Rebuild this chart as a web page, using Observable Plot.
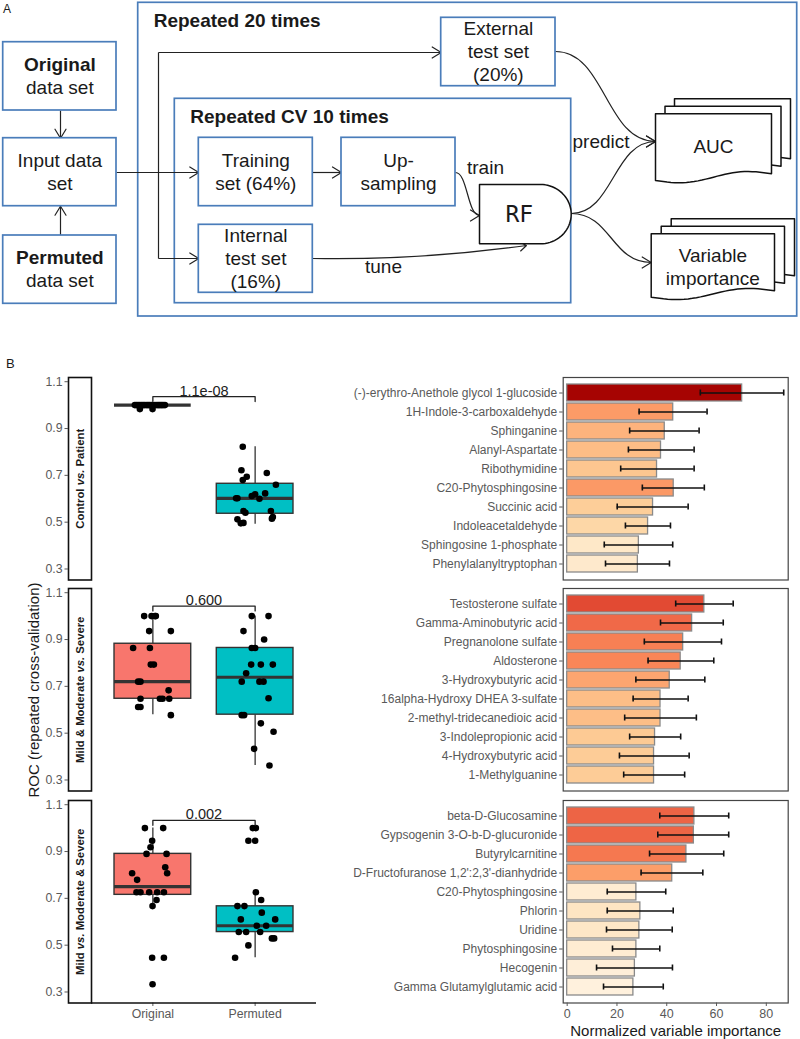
<!DOCTYPE html>
<html><head><meta charset="utf-8">
<script src="https://cdn.jsdelivr.net/npm/d3@7"></script>
<script src="https://cdn.jsdelivr.net/npm/@observablehq/plot@0.6"></script>
<style>
body{margin:0;background:#fff;}
#root{position:relative;width:800px;height:1039px;overflow:hidden;font-family:'Liberation Sans',Arial,Helvetica,sans-serif;color:#1a1a1a}
#root > *{position:absolute}
</style></head><body><div id="root"></div>
<script>
// ---------------- Panel A: flowchart data ----------------
const flowBoxLabels = [["Original","data set"],["Input data","set"],["Permuted","data set"],["Training","set (64%)"],["Up-","sampling"],["Internal","test set","(16%)"],["External","test set","(20%)"]];
const flowBoxBoldFirst = [true,false,true,false,false,false,false];
const flowBoxLeft   = [2.7, 2.7, 2.7, 198.3, 341, 198.3, 440.7];
const flowBoxTop    = [41.7, 137.7, 235, 137.3, 137.3, 224.3, 17.3];
const flowBoxRight  = [116, 116, 116, 312.3, 455, 312.3, 555];
const flowBoxBottom = [110, 205.7, 303.3, 205.7, 205.7, 292.3, 85.7];
const groupTitles = ["Repeated 20 times","Repeated CV 10 times"];
const groupLeft = [137.7, 174.3], groupTop = [2.3, 98.3], groupRight = [796.7, 570.7], groupBottom = [316, 302.7];
// connectors: [x1,y1,x2,y2]
const straightEdges = [[60,110,60,137.7],[60,235,60,205.7],[116,172,198.3,172],[158,52,440.7,52],[158,258,198.3,258],[312.3,172,341,172]];
const plainLines = [[158,52,158,258]];
const curvedEdges = [[455,172,479,215],[555,51,655,141],[570.7,213,655,141],[570.7,213,650.7,262]];
const tuneEdge = [312.3,258,526,245];
const edgeLabels = ["train","predict","tune"];
const edgeLabelX = [485, 600.5, 383], edgeLabelY = [167, 141.5, 266.5];
// RF node
const rfLabel = "RF";
const rfLeft = 479, rfTop = 184, rfBottom = 243.3, rfArcX = 540, rfRight = 570.7;
// document stacks (front document position, size, stacking offset)
const docLabels = [["AUC"],["Variable","importance"]];
const docFrontLeft = [655, 650.7], docFrontTop = [113.3, 233.3], docWidth = [116, 123.3];
const docLeftH = [66.7, 63.4], docRightH = [60, 57];
const docShiftX = [9.5, 10], docShiftY = [-7.5, -7.5];

// ---------------- Panel B: ROC boxplots ----------------
const groups = ["Original","Permuted"];
const groupColors = ["#F8766D","#00BFC4"];
const comparisons = ["Control vs. Patient","Mild & Moderate vs. Severe","Mild vs. Moderate & Severe"];
const pLabels = ["1.1e-08","0.600","0.002"];
const bracketY = [1.036, 1.043, 1.033];
const boxQ1 = [[1.0,0.536],[0.647,0.579],[0.715,0.556]];
const boxMedian = [[1.0,0.602],[0.72,0.739],[0.75,0.583]];
const boxQ3 = [[1.0,0.664],[0.882,0.864],[0.89,0.666]];
const whiskerLow = [[1.0,0.491],[0.579,0.362],[0.667,0.446]];
const whiskerHigh = [[1.0,0.822],[1.0,1.0],[1.0,0.726]];
const rocValues = [
  [[1,1,1,1,1,1,1,1,1,1,1,1,1,1,1,1,1,1,0.983,0.983],
   [0.822,0.722,0.694,0.680,0.710,0.660,0.602,0.602,0.612,0.619,0.600,0.623,0.548,0.540,0.548,0.515,0.522,0.512,0.497,0.495]],
  [[1.0,1.0,1.0,1.0,0.936,0.936,0.864,0.864,0.793,0.793,0.72,0.72,0.683,0.647,0.647,0.647,0.647,0.612,0.612,0.577],
   [1.0,1.0,0.936,0.9,0.864,0.864,0.793,0.793,0.793,0.756,0.72,0.72,0.72,0.649,0.577,0.577,0.542,0.506,0.433,0.362]],
  [[1.0,1.0,0.946,0.918,0.89,0.89,0.833,0.807,0.807,0.779,0.726,0.726,0.726,0.726,0.726,0.693,0.667,0.446,0.446,0.333],
   [1.0,1.0,0.946,0.946,0.726,0.693,0.667,0.667,0.639,0.61,0.61,0.583,0.583,0.556,0.556,0.556,0.529,0.529,0.499,0.446]]
];
const rocJitter = [
  [[-0.176,-0.16,-0.144,-0.127,-0.11,-0.094,-0.078,-0.06,-0.03,-0.01,0.02,0.04,0.07,0.085,0.1,0.118,-0.045,0.055,-0.127,-0.003],
   [-0.121,-0.134,-0.082,-0.121,0.114,0.203,-0.186,-0.173,-0.033,0,0.042,0.098,-0.114,-0.095,0.154,0.164,0.173,-0.173,-0.114,-0.14]],
  [[-0.085,-0.013,0.029,0.02,-0.036,0.176,-0.193,-0.029,-0.02,0.01,-0.144,-0.121,0.154,-0.121,0.069,0.095,0.16,-0.144,-0.121,0.176],
   [-0.033,0.131,-0.114,0.088,-0.033,0,-0.039,0.056,0.173,-0.088,-0.131,0.042,0.082,0.131,-0.131,-0.108,0.056,0.18,-0.01,0.14]],
  [[-0.078,0.101,-0.007,-0.023,-0.062,0.134,0.121,0.14,-0.203,-0.154,-0.16,-0.121,-0.036,0.042,0.108,0.036,-0.003,-0.007,0.108,-0.003],
   [-0.023,0.007,-0.066,0,0.007,0.059,-0.173,-0.105,0.065,-0.14,0.196,0.108,0.016,-0.16,-0.088,0.049,0.164,0.186,-0.066,-0.196]]
];
const rocTicks = [0.3,0.5,0.7,0.9,1.1];

// ---------------- Panel B: variable importance ----------------
const metaNames = [
  ["(-)-erythro-Anethole glycol 1-glucoside","1H-Indole-3-carboxaldehyde","Sphinganine","Alanyl-Aspartate","Ribothymidine","C20-Phytosphingosine","Succinic acid","Indoleacetaldehyde","Sphingosine 1-phosphate","Phenylalanyltryptophan"],
  ["Testosterone sulfate","Gamma-Aminobutyric acid","Pregnanolone sulfate","Aldosterone","3-Hydroxybutyric acid","16alpha-Hydroxy DHEA 3-sulfate","2-methyl-tridecanedioic acid","3-Indolepropionic acid","4-Hydroxybutyric acid","1-Methylguanine"],
  ["beta-D-Glucosamine","Gypsogenin 3-O-b-D-glucuronide","Butyrylcarnitine","D-Fructofuranose 1,2':2,3'-dianhydride","C20-Phytosphingosine","Phlorin","Uridine","Phytosphingosine","Hecogenin","Gamma Glutamylglutamic acid"]
];
const importance = [
  [70.3,42.6,39.2,37.7,36.1,42.8,34.5,32.5,28.8,28.4],
  [55.1,50.2,46.6,45.6,41.2,37.5,37.5,35.3,34.9,34.9],
  [51.1,50.9,47.9,42.2,27.8,29.4,29.0,27.8,27.2,26.6]
];
const errLow = [
  [53.5,28.9,25.1,24.6,21.5,30.2,20.1,23.4,14.9,15.4],
  [43.6,37.5,31.0,32.5,27.6,26.5,23.1,25.1,21.0,22.7],
  [37.2,36.4,33.1,29.7,16.1,16.1,15.8,18.2,11.8,14.6]
];
const errHigh = [
  [87.0,56.2,53.0,51.0,51.0,55.1,48.6,41.5,42.4,41.1],
  [66.7,62.7,62.0,58.9,55.3,48.6,51.9,45.6,49.0,47.2],
  [64.9,64.9,62.9,54.5,39.6,42.6,42.2,37.2,42.3,38.6]
];
const impTicks = [0,20,40,60,80];

// ---------------- layout / style constants ----------------
const FONT = "'Liberation Sans', Arial, Helvetica, sans-serif";
const FLOW_BLUE = "#4a7dba", INK = "#1a1a1a", AXIS_GREY = "#595959";
const LINE_H = 23, FLOW_FS = 19, STRIP_FS = 11.3;
const facetTops = [377, 588, 799.5], facetH = 202.5, bottomM = 37;
const rocDomain = [0.253, 1.118];
const impDomain = [-1.6, 88.8];
const colorDomain = [25.1, 78.6];
const boxHalf = 0.375, tipDrop = 0.021;

const root = document.getElementById("root");
function place(node, left, top) { node.style.left = left + "px"; node.style.top = top + "px"; root.appendChild(node); return node; }
const baseStyle = {fontFamily: FONT, background: "none", overflow: "visible"};

// text measuring for the strip labels (bold, with italic "vs.")
const mctx = document.createElement("canvas").getContext("2d");
function textW(s, italic) { mctx.font = (italic ? "italic " : "") + "bold " + STRIP_FS + "px 'Liberation Sans', Arial, sans-serif"; return mctx.measureText(s).width; }
function stripParts(label) {
  const [a, b] = label.split(" vs. ");
  const parts = [{t: a, it: false}, {t: "vs.", it: true}, {t: b, it: false}];
  const ws = textW(" ", false);
  parts.forEach(p => p.w = textW(p.t, p.it));
  const total = parts.reduce((s, p) => s + p.w, 0) + 2 * ws;
  let pos = 0;
  parts.forEach((p, k) => { p.off = pos + p.w / 2 - total / 2; pos += p.w + ws; });
  return parts;
}

// ---------------- build flowchart ----------------
const boxRects = flowBoxLabels.map((l, i) => ({x1: flowBoxLeft[i], y1: flowBoxTop[i], x2: flowBoxRight[i], y2: flowBoxBottom[i]}));
const groupRects = groupTitles.map((t, i) => ({title: t, x1: groupLeft[i], y1: groupTop[i], x2: groupRight[i], y2: groupBottom[i]}));
const flowText = [];
flowBoxLabels.forEach((lines, i) => {
  const cx = (flowBoxLeft[i] + flowBoxRight[i]) / 2, cy = (flowBoxTop[i] + flowBoxBottom[i]) / 2;
  lines.forEach((t, k) => flowText.push({x: cx, y: cy + (k - (lines.length - 1) / 2) * LINE_H, text: t, bold: flowBoxBoldFirst[i] && k === 0}));
});
const docShapes = [], docText = [];
docLabels.forEach((lines, s) => {
  for (let layer = 2; layer >= 0; layer--) {
    const x0 = docFrontLeft[s] + layer * docShiftX[s], y0 = docFrontTop[s] + layer * docShiftY[s];
    const w = docWidth[s], hl = docLeftH[s], hr = docRightH[s], id = s + "-" + layer;
    const pts = [[x0, y0], [x0 + w, y0], [x0 + w, y0 + hr]];
    const N = 30;
    for (let k = 1; k <= N; k++) {
      const t = 1 - k / N;
      pts.push([x0 + w * t, y0 + hl + (hr - hl) * t + 3.8 * Math.sin(2 * Math.PI * t)]);
    }
    pts.push([x0, y0]);
    pts.forEach(([x, y]) => docShapes.push({id, x, y}));
  }
  const cx = docFrontLeft[s] + docWidth[s] / 2, cy = docFrontTop[s] + 33.5;
  lines.forEach((t, k) => docText.push({x: cx, y: cy + (k - (lines.length - 1) / 2) * LINE_H, text: t}));
});
const rfShape = [{x: rfLeft, y: rfTop}, {x: rfArcX, y: rfTop}];
{
  const mid = (rfTop + rfBottom) / 2, ry = (rfBottom - rfTop) / 2, rx = rfRight - rfArcX;
  for (let k = 1; k < 40; k++) { const a = -Math.PI / 2 + Math.PI * k / 40; rfShape.push({x: rfArcX + rx * Math.cos(a), y: mid + ry * Math.sin(a)}); }
  rfShape.push({x: rfArcX, y: rfBottom}, {x: rfLeft, y: rfBottom}, {x: rfLeft, y: rfTop});
}
const toEdge = ([x1, y1, x2, y2]) => ({x1, y1, x2, y2});
const edgeOpts = {x1: "x1", y1: "y1", x2: "x2", y2: "y2", stroke: "#222", strokeWidth: 1.2};

const flow = Plot.plot({
  width: 800, height: 320, margin: 0,
  x: {domain: [0, 800], range: [0, 800], axis: null},
  y: {domain: [0, 320], range: [0, 320], axis: null},
  style: baseStyle,
  marks: [
    Plot.rect(groupRects, {x1: "x1", y1: "y1", x2: "x2", y2: "y2", fill: "none", stroke: FLOW_BLUE, strokeWidth: 1.7}),
    Plot.text(groupRects, {x: d => d.x1 + 15.5, y: d => d.y1 + 18, text: "title", textAnchor: "start", fontWeight: "bold", fontSize: FLOW_FS, fill: INK}),
    Plot.link(plainLines.map(toEdge), edgeOpts),
    Plot.link(straightEdges.map(toEdge), {...edgeOpts, markerEnd: "arrow"}),
    Plot.link(curvedEdges.map(toEdge), {...edgeOpts, curve: "bump-x", markerEnd: "arrow"}),
    Plot.arrow([toEdge(tuneEdge)], {...edgeOpts, bend: -4.5, headLength: 10, headAngle: 70}),
    Plot.rect(boxRects, {x1: "x1", y1: "y1", x2: "x2", y2: "y2", fill: "white", stroke: FLOW_BLUE, strokeWidth: 1.7}),
    Plot.text(flowText.filter(d => d.bold), {x: "x", y: "y", text: "text", fontSize: FLOW_FS, fontWeight: "bold", fill: INK}),
    Plot.text(flowText.filter(d => !d.bold), {x: "x", y: "y", text: "text", fontSize: FLOW_FS, fill: INK}),
    Plot.line(docShapes, {x: "x", y: "y", z: "id", fill: "white", stroke: "#111", strokeWidth: 1.5}),
    Plot.text(docText, {x: "x", y: "y", text: "text", fontSize: FLOW_FS, fill: INK}),
    Plot.line(rfShape, {x: "x", y: "y", fill: "white", stroke: "#111", strokeWidth: 1.5}),
    Plot.text([rfLabel], {x: (rfLeft + rfRight) / 2 - 6, y: (rfTop + rfBottom) / 2, text: d => d, fontSize: 23, fontFamily: "'DejaVu Sans Mono', monospace", fill: INK}),
    Plot.text(edgeLabels, {x: (d, i) => edgeLabelX[i], y: (d, i) => edgeLabelY[i], text: d => d, fontSize: FLOW_FS, fill: INK})
  ]
});
flow.querySelectorAll("marker").forEach(m => {
  m.setAttribute("viewBox", "-11 -7 13 14");
  m.setAttribute("markerWidth", "13");
  m.setAttribute("markerHeight", "14");
  m.setAttribute("markerUnits", "userSpaceOnUse");
  m.setAttribute("stroke-width", "1.2");
  const p = m.querySelector("path");
  if (p) p.setAttribute("d", "M-9,-5.5L0,0L-9,5.5");
});
place(flow, 0, 0);

// ---------------- build boxplot facets ----------------
function boxFacet(i) {
  const last = i === comparisons.length - 1;
  const boxes = groups.map((g, j) => ({g, pos: j + 1, q1: boxQ1[i][j], med: boxMedian[i][j], q3: boxQ3[i][j], lo: whiskerLow[i][j], hi: whiskerHigh[i][j]}));
  const pts = [];
  groups.forEach((g, j) => rocValues[i][j].forEach((v, k) => pts.push({x: j + 1 + rocJitter[i][j][k], y: v})));
  const br = bracketY[i];
  const bracket = [{x: 1, y: br - tipDrop}, {x: 1, y: br}, {x: 2, y: br}, {x: 2, y: br - tipDrop}];
  const xOpt = {domain: [0.4, 2.6]};
  if (!last) xOpt.axis = null;
  const parts = stripParts(comparisons[i]);
  const stripOpt = {text: "t", frameAnchor: "left", dx: -11.5, rotate: -90, textAnchor: "middle", lineAnchor: "middle", fontWeight: "bold", fontSize: STRIP_FS, fill: INK};
  return Plot.plot({
    width: 330, height: facetH + (last ? bottomM : 0),
    marginLeft: 91, marginRight: 14, marginTop: 0, marginBottom: last ? bottomM : 0,
    x: xOpt,
    y: {domain: rocDomain},
    color: {domain: groups, range: groupColors},
    style: baseStyle,
    marks: [
      Plot.frame({insetLeft: -23, insetRight: 225, stroke: "#111", strokeWidth: 1.6}),
      ...parts.map(p => Plot.text([p], {...stripOpt, dy: -p.off, fontStyle: p.it ? "italic" : "normal"})),
      Plot.axisY({ticks: rocTicks, tickFormat: ".1f", tickSize: 3.5, tickPadding: 2.5, dx: -23, fontSize: 12.3, color: AXIS_GREY, label: null}),
      last ? Plot.axisX({ticks: [1, 2], tickFormat: d => groups[d - 1], tickSize: 3.5, tickPadding: 3, fontSize: 12.3, color: AXIS_GREY, label: null}) : null,
      last ? Plot.ruleY([rocDomain[0]], {stroke: "#111", strokeWidth: 1.6}) : null,
      Plot.ruleX(boxes, {x: "pos", y1: "lo", y2: "q1", stroke: "#333", strokeWidth: 1.3}),
      Plot.ruleX(boxes, {x: "pos", y1: "q3", y2: "hi", stroke: "#333", strokeWidth: 1.3}),
      Plot.rect(boxes, {x1: d => d.pos - boxHalf, x2: d => d.pos + boxHalf, y1: "q1", y2: "q3", fill: "g", stroke: "#333", strokeWidth: 1.4}),
      Plot.ruleY(boxes, {x1: d => d.pos - boxHalf, x2: d => d.pos + boxHalf, y: "med", stroke: "#333", strokeWidth: 3.2}),
      Plot.dot(pts, {x: "x", y: "y", r: 3.3, fill: "black", stroke: null}),
      Plot.line(bracket, {x: "x", y: "y", stroke: "#222", strokeWidth: 1.3}),
      Plot.text([pLabels[i]], {x: (1 + 2) / 2, y: br, text: d => d, lineAnchor: "bottom", dy: -1, fontSize: 14.5, fill: "#222"})
    ]
  });
}
comparisons.forEach((c, i) => place(boxFacet(i), 0, facetTops[i]));

// ---------------- build importance facets ----------------
function barFacet(i) {
  const last = i === metaNames.length - 1;
  const rows = metaNames[i].map((n, k) => ({n, v: importance[i][k], lo: errLow[i][k], hi: errHigh[i][k]}));
  const xOpt = {domain: impDomain};
  if (!last) xOpt.axis = null;
  const capOpt = {y: "n", insetTop: 5.5, insetBottom: 5.5, stroke: "#111", strokeWidth: 1.6};
  return Plot.plot({
    width: 500, height: facetH + (last ? bottomM : 0),
    marginLeft: 262.7, marginRight: 12.3, marginTop: 0, marginBottom: last ? bottomM : 0,
    x: xOpt,
    y: {domain: metaNames[i], paddingInner: 0.1, paddingOuter: 0.15},
    color: {type: "log", scheme: "OrRd", domain: colorDomain},
    style: baseStyle,
    marks: [
      Plot.barX(rows, {y: "n", x: "v", fill: "v", stroke: "#8a8a8a", strokeWidth: 1.3}),
      Plot.ruleY(rows, {y: "n", x1: "lo", x2: "hi", stroke: "#111", strokeWidth: 1.6}),
      Plot.tickX(rows, {...capOpt, x: "lo"}),
      Plot.tickX(rows, {...capOpt, x: "hi"}),
      Plot.frame({stroke: "#444", strokeWidth: 1.2}),
      Plot.axisY({tickSize: 3.5, tickPadding: 2.5, fontSize: 12, color: AXIS_GREY, label: null}),
      last ? Plot.axisX({ticks: impTicks, tickSize: 3.5, tickPadding: 2.5, fontSize: 12.5, color: AXIS_GREY, label: null}) : null,
      last ? Plot.text(["Normalized variable importance"], {text: d => d, frameAnchor: "bottom", dy: 28.5, lineAnchor: "middle", fontSize: 15, fill: INK}) : null
    ]
  });
}
metaNames.forEach((m, i) => place(barFacet(i), 300, facetTops[i]));

// ---------------- panel letters & shared axis title ----------------
function label(text, left, top, css) {
  const d = document.createElement("div");
  d.textContent = text;
  Object.assign(d.style, {whiteSpace: "nowrap", lineHeight: "1"}, css || {});
  return place(d, left, top);
}
label("A", 3, 3, {fontSize: "12px"});
label("B", 6, 357, {fontSize: "13px"});
label("ROC (repeated cross-validation)", 33, 689.5, {fontSize: "15px", transform: "translate(-50%,-50%) rotate(-90deg)"});
</script></body></html>
